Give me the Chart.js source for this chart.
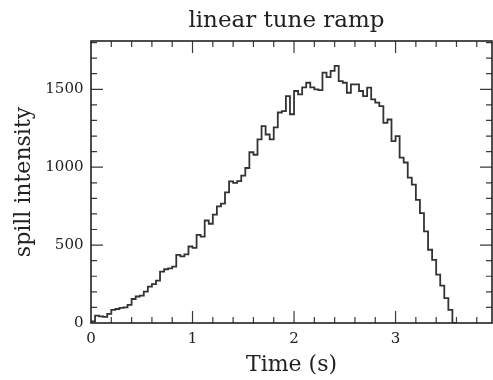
<!DOCTYPE html>
<html>
<head>
<meta charset="utf-8">
<title>linear tune ramp</title>
<script src="https://cdn.jsdelivr.net/npm/chart.js@4/dist/chart.umd.min.js"></script>
<style>
  html, body { margin: 0; padding: 0; background: #fff; }
  #wrap { width: 493px; height: 380px; position: relative; }
</style>
</head>
<body>
<div id="wrap"><canvas id="spill"></canvas></div>
<script>
// Spill intensity histogram (bin width 0.04 s, starting at t = 0)
const BIN_W = 0.04;
const spill = [
  8, 10, 47, 42, 39, 58, 84, 90, 97, 100,
  116, 154, 170, 176, 201, 234, 250, 272, 330, 345,
  350, 362, 437, 427, 440, 491, 482, 566, 555, 658,
  637, 695, 748, 766, 838, 909, 899, 910, 946, 995,
  1096, 1080, 1178, 1263, 1210, 1178, 1255, 1351, 1360, 1456,
  1340, 1489, 1467, 1512, 1542, 1512, 1500, 1495, 1607, 1578,
  1618, 1650, 1553, 1542, 1478, 1532, 1532, 1489, 1456, 1511,
  1435, 1415, 1392, 1285, 1306, 1167, 1199, 1062, 1030, 933,
  888, 790, 705, 588, 470, 405, 310, 240, 160, 84
];

const xMajor = [0, 1, 2, 3];
const yMajor = [0, 500, 1000, 1500];
const X_MINOR = 0.2, Y_MINOR = 100;
const X_MAX = 3.95, Y_MAX = 1810;

const SERIF = '"DejaVu Serif", "Liberation Serif", serif';

// step points at bin edges, closing back down to zero after the last bin
const points = spill.map((v, i) => ({ x: +(i * BIN_W).toFixed(2), y: v }));
points.push({ x: +(spill.length * BIN_W).toFixed(2), y: 0 });

// frame with inward ticks on all four sides, plus the title
const framePlugin = {
  id: 'frame',
  afterDraw(chart) {
    const { ctx, chartArea: a, scales: { x, y } } = chart;
    ctx.save();
    ctx.strokeStyle = '#3a3a3a';
    ctx.lineWidth = 1.2;
    const tickX = (v, len) => {
      const px = x.getPixelForValue(v);
      ctx.beginPath();
      ctx.moveTo(px, a.bottom); ctx.lineTo(px, a.bottom - len);
      ctx.moveTo(px, a.top); ctx.lineTo(px, a.top + len);
      ctx.stroke();
    };
    const tickY = (v, len) => {
      const py = y.getPixelForValue(v);
      ctx.beginPath();
      ctx.moveTo(a.left, py); ctx.lineTo(a.left + len, py);
      ctx.moveTo(a.right, py); ctx.lineTo(a.right - len, py);
      ctx.stroke();
    };
    for (let v = X_MINOR; v < X_MAX; v += X_MINOR) {
      const r = Math.round(v * 10) / 10;
      tickX(r, Number.isInteger(r) ? 12 : 6);
    }
    for (let v = Y_MINOR; v < Y_MAX; v += Y_MINOR) {
      tickY(v, v % 500 === 0 ? 12 : 6);
    }
    ctx.strokeStyle = '#222';
    ctx.lineWidth = 1.6;
    ctx.strokeRect(a.left, a.top, a.right - a.left, a.bottom - a.top);

    ctx.fillStyle = '#222';
    ctx.font = '23px ' + SERIF;
    ctx.textAlign = 'center';
    ctx.textBaseline = 'alphabetic';
    ctx.fillText('linear tune ramp', (a.left + a.right) / 2 - 5, 27);
    ctx.restore();
  }
};

new Chart(document.getElementById('spill'), {
  type: 'line',
  data: {
    datasets: [{
      data: points,
      stepped: 'after',
      borderColor: '#333',
      borderWidth: 1.8,
      pointRadius: 0,
      fill: false
    }]
  },
  options: {
    responsive: true,
    maintainAspectRatio: false,
    animation: false,
    layout: { padding: { top: 41, right: 1, left: 0, bottom: 0 } },
    plugins: { legend: { display: false }, tooltip: { enabled: false } },
    scales: {
      x: {
        type: 'linear',
        min: 0, max: X_MAX,
        afterBuildTicks: s => { s.ticks = xMajor.map(v => ({ value: v })); },
        afterFit: s => { s.height = 57; },
        grid: { display: false, drawTicks: false },
        border: { display: false },
        ticks: { color: '#222', font: { family: SERIF, size: 15 }, padding: 7, maxRotation: 0, callback: v => String(v) },
        title: { display: true, text: 'Time (s)', color: '#222', font: { family: SERIF, size: 22 }, padding: { top: 0, bottom: 2 } }
      },
      y: {
        type: 'linear',
        min: 0, max: Y_MAX,
        afterBuildTicks: s => { s.ticks = yMajor.map(v => ({ value: v })); },
        afterFit: s => { s.width = 91; },
        grid: { display: false, drawTicks: false },
        border: { display: false },
        ticks: { color: '#222', font: { family: SERIF, size: 15 }, padding: 7.5, callback: v => String(v) },
        title: { display: true, text: 'spill intensity', color: '#222', font: { family: SERIF, size: 22 }, padding: { top: 11, bottom: 0 } }
      }
    }
  },
  plugins: [framePlugin]
});
</script>
</body>
</html>
